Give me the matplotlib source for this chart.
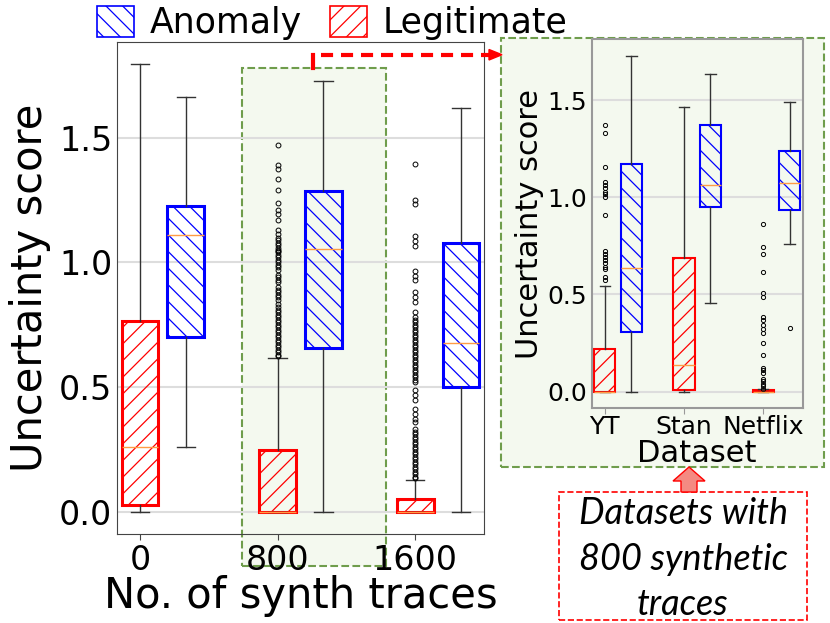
import matplotlib
matplotlib.use("Agg")
import matplotlib.pyplot as plt
from matplotlib.patches import Patch, Rectangle, Polygon
from matplotlib.lines import Line2D

# ---- main chart data (uncertainty score per group) ----
synth_labels = ["0", "800", "1600"]

legit_q1 = [0.028, 0.0, 0.0]
legit_med = [0.259, 0.0, 0.0]
legit_q3 = [0.765, 0.248, 0.052]
legit_lo = [0.0, 0.0, 0.0]
legit_hi = [1.795, 0.615, 0.127]
legit_fliers_0 = []
legit_fliers_800 = [1.47, 1.39, 1.375, 1.335, 1.29, 1.24, 1.21, 1.195, 1.17, 1.13,
                    1.115, 1.10, 1.09, 1.08, 1.07, 1.06, 1.05, 1.045, 1.04, 1.03,
                    1.02, 1.01, 1.0, 0.99, 0.98, 0.97, 0.95, 0.94, 0.93, 0.92,
                    0.90, 0.89, 0.88, 0.87, 0.86, 0.85, 0.835, 0.82, 0.81, 0.80,
                    0.79, 0.78, 0.77, 0.76, 0.75, 0.74, 0.73, 0.72, 0.71, 0.70,
                    0.69, 0.68, 0.67, 0.66, 0.65, 0.64, 0.63, 0.625]
legit_fliers_1600 = [1.395, 1.25, 1.235, 1.105, 1.085, 1.065, 0.965, 0.945, 0.93, 0.88,
                     0.86, 0.84, 0.80, 0.78, 0.77, 0.76, 0.75, 0.74, 0.73, 0.72,
                     0.71, 0.70, 0.69, 0.68, 0.67, 0.66, 0.65, 0.64, 0.63, 0.62,
                     0.61, 0.60, 0.59, 0.58, 0.57, 0.56, 0.55, 0.54, 0.53, 0.52,
                     0.49, 0.47, 0.45, 0.41, 0.39, 0.37, 0.36, 0.33, 0.32, 0.31,
                     0.30, 0.29, 0.28, 0.27, 0.26, 0.25, 0.24, 0.23, 0.22, 0.21,
                     0.20, 0.19, 0.18, 0.17, 0.16, 0.15, 0.14, 0.135]

anom_q1 = [0.699, 0.657, 0.501]
anom_med = [1.11, 1.056, 0.675]
anom_q3 = [1.228, 1.285, 1.077]
anom_lo = [0.261, 0.0, 0.0]
anom_hi = [1.665, 1.728, 1.619]

# ---- inset data (800 synthetic traces) ----
ds_labels = ["YT", "Stan", "Netflix"]

in_legit_q1 = [0.0, 0.009, 0.0]
in_legit_med = [0.0, 0.136, 0.0]
in_legit_q3 = [0.218, 0.687, 0.008]
in_legit_lo = [0.0, 0.0, 0.0]
in_legit_hi = [0.546, 1.464, 0.012]
in_legit_fliers_yt = [1.372, 1.331, 1.158, 1.081, 1.065, 1.047, 1.03, 1.017, 1.004, 0.909,
                      0.726, 0.709, 0.695, 0.678, 0.661, 0.643, 0.63, 0.592, 0.575]
in_legit_fliers_stan = []
in_legit_fliers_nf = [0.865, 0.743, 0.709, 0.614, 0.51, 0.489, 0.383, 0.369, 0.343, 0.321,
                      0.30, 0.252, 0.187, 0.123, 0.112, 0.095, 0.064, 0.052, 0.04, 0.026, 0.014]

in_anom_q1 = [0.307, 0.949, 0.934]
in_anom_med = [0.637, 1.062, 1.076]
in_anom_q3 = [1.173, 1.371, 1.240]
in_anom_lo = [0.0, 0.455, 0.759]
in_anom_hi = [1.728, 1.634, 1.489]
in_anom_fliers = [[], [], [0.326]]

W, H = 830, 623
GREEN_FILL = "#f4f9ef"
GREEN_EDGE = "#6f9d4c"


def fx(px):
    return px / W


def fy(py):
    return 1 - py / H


def make_stats(q1, med, q3, lo, hi, fliers):
    return [dict(q1=a, med=m, q3=b, whislo=l, whishi=h, fliers=f)
            for a, m, b, l, h, f in zip(q1, med, q3, lo, hi, fliers)]


def draw_boxes(ax, stats, pos, color, hatch, lw, ms):
    ax.bxp(stats, positions=pos, widths=0.8, patch_artist=True, manage_ticks=False,
           boxprops=dict(facecolor="none", edgecolor=color, linewidth=lw, hatch=hatch),
           medianprops=dict(color="#ff9c45", linewidth=1),
           whiskerprops=dict(color="#333333", linewidth=1),
           capprops=dict(color="#333333", linewidth=1),
           flierprops=dict(marker="o", markersize=ms, markerfacecolor="none",
                           markeredgecolor="black", markeredgewidth=0.7))


def style_axes(ax, labels, tick_fs, spine_col, xpad):
    ax.set_xlim(0.5, 8.5)
    ax.set_xticks([1, 4, 7])
    ax.set_xticklabels(labels)
    ax.set_yticks([0, 0.5, 1.0, 1.5])
    ax.yaxis.grid(True, color="#dddddd", linewidth=1.5)
    ax.set_axisbelow(True)
    for s in ax.spines.values():
        s.set_color(spine_col)
    ax.tick_params(axis="y", length=0, labelsize=tick_fs)
    ax.tick_params(axis="x", length=4, color=spine_col, labelsize=tick_fs, pad=xpad)


plt.rcParams["hatch.linewidth"] = 0.9

fig = plt.figure(figsize=(8.3, 6.23), dpi=100)

# highlight boxes behind the axes
fig.add_artist(Rectangle((fx(242), fy(566)), fx(386) - fx(242), fy(67.7) - fy(566),
                         transform=fig.transFigure, facecolor=GREEN_FILL,
                         edgecolor=GREEN_EDGE, linestyle="--", linewidth=1.5, zorder=-1))
fig.add_artist(Rectangle((fx(500.5), fy(467)), fx(823.5) - fx(500.5), fy(38) - fy(467),
                         transform=fig.transFigure, facecolor=GREEN_FILL,
                         edgecolor=GREEN_EDGE, linestyle="--", linewidth=1.5, zorder=-1))

# ---- main axes ----
ax = fig.add_axes([fx(117), fy(534), fx(484) - fx(117), fy(42) - fy(534)])
ax.set_facecolor("none")
draw_boxes(ax, make_stats(legit_q1, legit_med, legit_q3, legit_lo, legit_hi,
                          [legit_fliers_0, legit_fliers_800, legit_fliers_1600]),
           [1, 4, 7], "red", "//", 2.2, 3.5)
draw_boxes(ax, make_stats(anom_q1, anom_med, anom_q3, anom_lo, anom_hi, [[], [], []]),
           [2, 5, 8], "blue", "\\\\", 2.2, 3.5)
style_axes(ax, synth_labels, 24, "#444444", 3.5)
ax.set_ylabel("Uncertainty score", fontsize=30, labelpad=6)
ax.set_xlabel("No. of synth traces", fontsize=30, labelpad=-2)

# ---- inset axes ----
axi = fig.add_axes([fx(591.7), fy(408.3), fx(802.7) - fx(591.7), fy(39.3) - fy(408.3)])
axi.set_facecolor(GREEN_FILL)
draw_boxes(axi, make_stats(in_legit_q1, in_legit_med, in_legit_q3, in_legit_lo, in_legit_hi,
                           [in_legit_fliers_yt, in_legit_fliers_stan, in_legit_fliers_nf]),
           [1, 4, 7], "red", "//", 1.5, 3)
draw_boxes(axi, make_stats(in_anom_q1, in_anom_med, in_anom_q3, in_anom_lo, in_anom_hi,
                           in_anom_fliers),
           [2, 5, 8], "blue", "\\\\", 1.5, 3)
style_axes(axi, ds_labels, 18, "#999999", 0.5)
for s in axi.spines.values():
    s.set_linewidth(1.5)
axi.set_ylabel("Uncertainty score", fontsize=22, labelpad=2)
axi.set_xlabel("Dataset", fontsize=22, labelpad=0)

# ---- legend ----
handles = [Patch(facecolor="white", edgecolor="blue", hatch="\\\\", linewidth=1.2, label="Anomaly"),
           Patch(facecolor="white", edgecolor="red", hatch="//", linewidth=1.2, label="Legitimate")]
fig.legend(handles=handles, loc="upper left", bbox_to_anchor=(fx(97), fy(6)), ncol=2,
           frameon=False, fontsize=25, handlelength=1.07, handleheight=1.0,
           handletextpad=0.45, columnspacing=0.8, borderpad=0, borderaxespad=0)

# ---- red dashed arrow main -> inset ----
fig.add_artist(Line2D([fx(313.3), fx(313.3)], [fy(67.5), fy(54.7)], color="red", linewidth=3,
                      transform=fig.transFigure))
fig.add_artist(Line2D([fx(321), fx(489)], [fy(54.7), fy(54.7)], color="red", linewidth=3,
                      linestyle=(0, (2.9, 1.9)), transform=fig.transFigure))
fig.add_artist(Polygon([[fx(489), fy(49.5)], [fx(502), fy(54.7)], [fx(489), fy(60)]],
                       closed=True, transform=fig.transFigure, color="red"))

# ---- annotation box ----
fig.add_artist(Rectangle((fx(559), fy(620)), fx(807) - fx(559), fy(492) - fy(620),
                         transform=fig.transFigure, facecolor="white", edgecolor="red",
                         linestyle="--", linewidth=1.2))
fig.add_artist(Polygon([[fx(689), fy(467)], [fx(705), fy(481)], [fx(697), fy(481)],
                        [fx(697), fy(492)], [fx(681), fy(492)], [fx(681), fy(481)],
                        [fx(673), fy(481)]], closed=True, transform=fig.transFigure,
                       facecolor="#f48a82", edgecolor="red", linewidth=1))
fig.text(fx(683), fy(559), "Datasets with\n800 synthetic\ntraces", ha="center", va="center",
         fontsize=26, fontstyle="italic", family="Lato", linespacing=1.45)

fig.savefig("out.png", dpi=100)
